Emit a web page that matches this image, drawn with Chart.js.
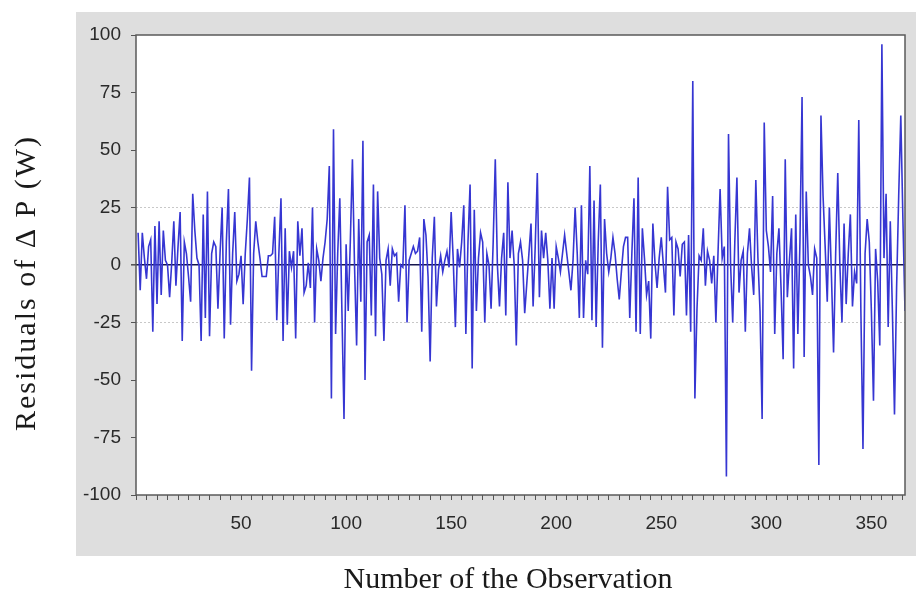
<!DOCTYPE html>
<html>
<head>
<meta charset="utf-8">
<script src="https://cdn.jsdelivr.net/npm/chart.js@4/dist/chart.umd.min.js"></script>
<style>
  html, body { margin: 0; padding: 0; background: #ffffff; }
  #wrap { width: 916px; height: 597px; }
</style>
</head>
<body>
<div id="wrap"><canvas id="c" width="916" height="597"></canvas></div>
<script>
// Residuals, observations 1-100
const residuals1 = [
  14, -11, 14, 3, -6, 8, 11, -29, 17, -17,
  19, -13, 15, 2, 0, -14, 1, 19, -9, 8,
  23, -33, 10, 5, -5, -16, 31, 15, 3, 0,
  -33, 22, -23, 32, -31, 5, 10, 8, -19, 5,
  25, -32, 10, 33, -26, 5, 23, -7, -4, 4,
  -17, 5, 20, 38, -46, 5, 19, 10, 3, -5,
  -5, -5, 4, 4, 5, 21, -24, 5, 29, -33,
  16, -26, 6, -1, 6, -32, 19, 4, 16, -12,
  -9, 1, -10, 25, -25, 7, 2, -7, 3, 10,
  20, 43, -58, 59, -30, 5, 29, -20, -67, 9
];
// Residuals, observations 101-200
const residuals2 = [
  -20, 10, 46, 0, -35, 20, -16, 54, -50, 10,
  13, -22, 35, -31, 32, 3, -4, -33, 2, 7,
  -9, 7, 4, 5, -16, 0, -1, 26, -25, 2,
  5, 8, 5, 6, 12, -29, 20, 13, -5, -42,
  3, 21, -18, -2, 4, -3, 2, 6, -1, 23,
  2, -27, 7, -1, 10, 26, -30, 10, 35, -45,
  24, -20, 3, 14, 10, -25, 5, 0, -19, 10,
  46, 0, -18, 3, 14, -22, 36, 3, 15, 0,
  -35, 5, 10, 2, -21, -8, 5, 18, -18, 8,
  40, -14, 15, 3, 14, 2, -19, 3, -19, 8
];
// Residuals, observations 201-300
const residuals3 = [
  3, -3, 5, 13, 5, -3, -11, 2, 25, 5,
  -23, 26, -23, 2, -4, 43, -24, 28, -27, 10,
  35, -36, 20, 5, -3, 3, 12, 5, -6, -15,
  -3, 8, 12, 12, -23, 5, 29, -29, 38, -30,
  16, 3, -13, -7, -32, 18, 1, -10, 3, 12,
  0, -12, 34, 11, 12, -22, 10, 7, -5, 9,
  10, -22, 13, -29, 80, -58, -19, 4, 2, 16,
  -9, 6, 2, -8, 4, -25, 5, 33, 3, 8,
  -92, 57, 0, -25, 10, 38, -12, 2, 6, -29,
  5, 16, -1, -13, 37, 3, -20, -67, 62, 15
];
// Residuals, observations 301-366
const residuals4 = [
  8, -3, 30, -30, 5, 16, -10, -41, 46, -14,
  2, 16, -45, 22, -30, 10, 73, -40, 32, 0,
  -5, -13, 7, 3, -87, 65, 30, 8, -16, 25,
  -5, -38, 5, 40, 0, -25, 18, -17, 5, 22,
  -18, -3, -8, 63, -20, -80, 5, 20, 10, -20,
  -59, 7, -7, -35, 96, 3, 31, -27, 19, -20,
  -65, -10, 30, 65, 20, -20
];
const yTickValues = [-100, -75, -50, -25, 0, 25, 50, 75, 100];
const xTickLabels = [50, 100, 150, 200, 250, 300, 350];
const seLines = [25, -25];
const yTitle = 'Residuals of \u0394 P (W)';
const xTitle = 'Number of the Observation';

const residuals = residuals1.concat(residuals2, residuals3, residuals4);
const points = residuals.map((v, i) => ({ x: i + 1, y: v }));

const bgPlugin = {
  id: 'bg',
  beforeDraw(chart) {
    const c = chart.ctx;
    c.save();
    c.fillStyle = '#ffffff';
    c.fillRect(0, 0, chart.width, chart.height);
    c.fillStyle = '#dedede';
    c.fillRect(76, 12, chart.width - 76, 544);
    const a = chart.chartArea;
    c.fillStyle = '#ffffff';
    c.fillRect(a.left, a.top, a.right - a.left, a.bottom - a.top);
    c.restore();
  }
};
const framePlugin = {
  id: 'frame',
  afterDatasetsDraw(chart) {
    const c = chart.ctx, a = chart.chartArea;
    c.save();
    c.strokeStyle = '#5a5a5a';
    c.lineWidth = 1.5;
    c.strokeRect(a.left, a.top, a.right - a.left, a.bottom - a.top);
    c.restore();
  }
};
const titlePlugin = {
  id: 'titles',
  afterDraw(chart) {
    const c = chart.ctx;
    c.save();
    c.fillStyle = '#1a1a1a';
    c.textAlign = 'center';
    c.textBaseline = 'middle';
    c.font = '30px "Liberation Serif", "Times New Roman", serif';
    c.fillText(xTitle, 508, 580);
    c.translate(27, 283);
    c.rotate(-Math.PI / 2);
    c.font = '30px "Liberation Serif", "Times New Roman", serif';
    if ('letterSpacing' in c) c.letterSpacing = '2px';
    c.fillText(yTitle, 0, 0);
    c.restore();
  }
};

new Chart(document.getElementById('c'), {
  type: 'line',
  data: {
    datasets: [{
      data: points,
      borderColor: '#3636d2',
      borderWidth: 1.6,
      pointRadius: 0,
      tension: 0,
      fill: false
    }]
  },
  options: {
    responsive: false,
    animation: false,
    events: [],
    layout: { padding: { left: 0, top: 35, right: 11, bottom: 0 } },
    plugins: { legend: { display: false }, tooltip: { enabled: false }, title: { display: false } },
    scales: {
      x: {
        type: 'linear',
        min: 0,
        max: 366,
        afterFit(s) { s.height = 102; },
        ticks: {
          stepSize: 5,
          includeBounds: false,
          autoSkip: false,
          maxRotation: 0,
          padding: 12,
          color: '#2a2a2a',
          font: { family: '"Liberation Sans", Arial, sans-serif', size: 19 },
          callback: v => xTickLabels.includes(v) ? String(v) : ''
        },
        grid: { drawOnChartArea: false, drawTicks: true, tickLength: 5, tickColor: '#555555', tickWidth: 1 },
        border: { display: false }
      },
      y: {
        min: -100,
        max: 100,
        afterFit(s) { s.width = 136; },
        afterBuildTicks(s) { s.ticks = yTickValues.map(v => ({ value: v })); },
        ticks: {
          padding: 10,
          color: '#2a2a2a',
          font: { family: '"Liberation Sans", Arial, sans-serif', size: 19 },
          callback: v => String(v)
        },
        grid: {
          drawTicks: true,
          tickLength: 5,
          tickColor: '#555555',
          color: c => {
            if (!c.tick) return 'transparent';
            if (c.tick.value === 0) return '#16164e';
            if (seLines.includes(c.tick.value)) return '#c8c8c8';
            return 'transparent';
          },
          lineWidth: c => (c.tick && c.tick.value === 0) ? 1.6 : 1
        },
        border: {
          display: false,
          dash: c => (c.tick && c.tick.value !== 0) ? [2, 2] : []
        }
      }
    }
  },
  plugins: [bgPlugin, framePlugin, titlePlugin]
});
</script>
</body>
</html>
